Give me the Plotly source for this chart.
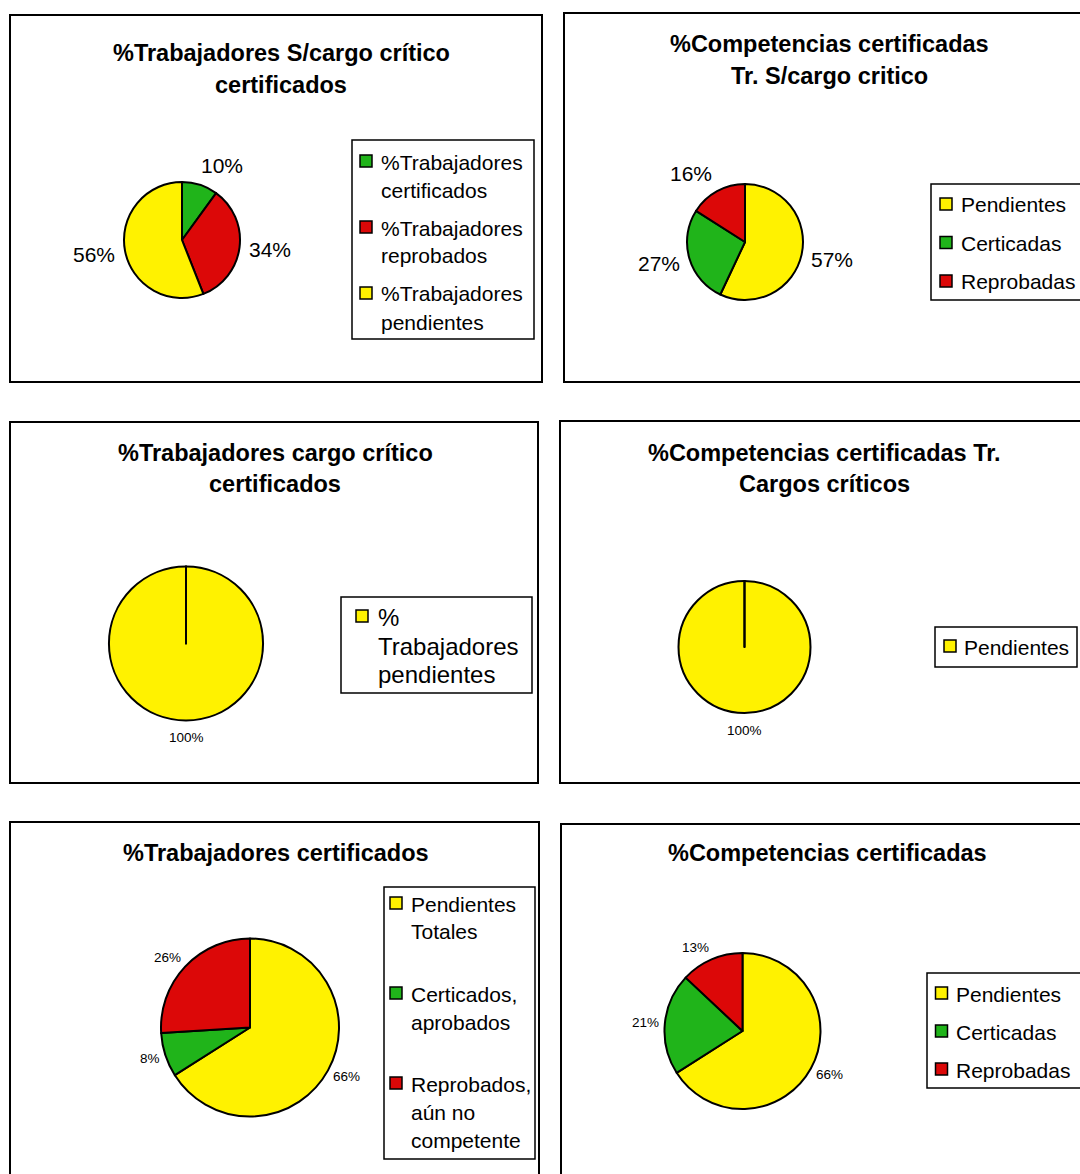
import math
import textwrap

import plotly.graph_objects as go

W, H = 1080, 1174
FONT = "Liberation Sans, Arial, sans-serif"

YELLOW = "#FFF200"
GREEN = "#20B41A"
RED = "#DC0808"

# ---- data -------------------------------------------------------------
s_cargo_title = ["%Trabajadores S/cargo crítico", "certificados"]
s_cargo_labels = ["%Trabajadores certificados", "%Trabajadores reprobados",
                  "%Trabajadores pendientes"]
s_cargo_values = [10, 34, 56]
s_cargo_colors = [GREEN, RED, YELLOW]

comp_s_cargo_title = ["%Competencias certificadas", "Tr. S/cargo critico"]
comp_s_cargo_labels = ["Pendientes", "Certicadas", "Reprobadas"]
comp_s_cargo_values = [57, 27, 16]
comp_s_cargo_colors = [YELLOW, GREEN, RED]

cargo_title = ["%Trabajadores cargo crítico", "certificados"]
cargo_labels = ["% Trabajadores pendientes", "%Trabajadores certificados",
                "%Trabajadores reprobados"]
cargo_values = [100, 0, 0]
cargo_colors = [YELLOW, GREEN, RED]

comp_cargo_title = ["%Competencias certificadas Tr.", "Cargos críticos"]
comp_cargo_labels = ["Pendientes", "Certicadas", "Reprobadas"]
comp_cargo_values = [100, 0, 0]
comp_cargo_colors = [YELLOW, GREEN, RED]

total_title = ["%Trabajadores certificados"]
total_labels = ["Pendientes Totales", "Certicados, aprobados",
                "Reprobados, aún no competente"]
total_values = [66, 8, 26]
total_colors = [YELLOW, GREEN, RED]

comp_total_title = ["%Competencias certificadas"]
comp_total_labels = ["Pendientes", "Certicadas", "Reprobadas"]
comp_total_values = [66, 21, 13]
comp_total_colors = [YELLOW, GREEN, RED]

# ---- layout of each chart block (pixel units) --------------------------
panels = [
    dict(title=s_cargo_title, labels=s_cargo_labels, values=s_cargo_values,
         colors=s_cargo_colors,
         box=(10, 15, 542, 382), title_x=281, title_y=[53, 85],
         pie=(182, 240, 58), pct_font=21, gap=10,
         legend=dict(box=(352, 140, 534, 339), mx=366, tx=379, y0=162,
                     step=66, line=28, font=21, wrap=13)),
    dict(title=comp_s_cargo_title, labels=comp_s_cargo_labels,
         values=comp_s_cargo_values, colors=comp_s_cargo_colors,
         box=(564, 13, 1095, 382), title_x=829, title_y=[44, 76],
         pie=(745, 242, 58), pct_font=21, gap=10,
         legend=dict(box=(931, 184, 1095, 300), mx=946, tx=959, y0=205,
                     step=38.5, line=28, font=21, wrap=40)),
    dict(title=cargo_title, labels=cargo_labels, values=cargo_values,
         colors=cargo_colors,
         box=(10, 422, 538, 783), title_x=275, title_y=[453, 484],
         pie=(186, 643.5, 77), pct_font=13.5, gap=10,
         legend=dict(box=(341, 597, 532, 693), mx=362, tx=376, y0=617,
                     step=90, line=29, font=24, wrap=12)),
    dict(title=comp_cargo_title, labels=comp_cargo_labels,
         values=comp_cargo_values, colors=comp_cargo_colors,
         box=(560, 421, 1095, 783), title_x=824, title_y=[453, 484],
         pie=(744.5, 647, 66), pct_font=13.5, gap=11,
         legend=dict(box=(935, 627, 1077, 667), mx=950, tx=962, y0=647,
                     step=38, line=28, font=21, wrap=40)),
    dict(title=total_title, labels=total_labels, values=total_values,
         colors=total_colors,
         box=(10, 822, 539, 1190), title_x=275.5, title_y=[853],
         pie=(250, 1027.5, 89), pct_font=13.5, gap=6,
         legend=dict(box=(384, 887, 535, 1159), mx=396, tx=409, y0=904,
                     step=90, line=28, font=21, wrap=11)),
    dict(title=comp_total_title, labels=comp_total_labels,
         values=comp_total_values, colors=comp_total_colors,
         box=(561, 824, 1095, 1190), title_x=827, title_y=[853],
         pie=(742.5, 1031, 78), pct_font=13.5, gap=6,
         legend=dict(box=(927, 973, 1095, 1088), mx=941.5, tx=954, y0=994,
                     step=38, line=28, font=21, wrap=40)),
]


def fx(x):
    return x / W


def fy(y):
    return 1 - y / H


def text_width(s, size):
    # rough Arial advance widths for percentage labels
    w = sum(0.889 if ch == "%" else 0.556 for ch in s)
    return w * size


fig = go.Figure()
shapes = []
annotations = []

for p in panels:
    x0, y0, x1, y1 = p["box"]
    shapes.append(dict(type="rect", xref="paper", yref="paper",
                       x0=fx(x0), x1=fx(x1), y0=fy(y1), y1=fy(y0),
                       line=dict(color="black", width=2), layer="below"))

    for line_txt, ty in zip(p["title"], p["title_y"]):
        annotations.append(dict(text=f"<b>{line_txt}</b>", xref="paper", yref="paper",
                                x=fx(p["title_x"]), y=fy(ty), xanchor="center",
                                yanchor="middle", showarrow=False,
                                font=dict(family=FONT, size=23.5, color="black")))

    cx, cy, r = p["pie"]
    fig.add_trace(go.Pie(
        labels=p["labels"], values=p["values"], sort=False,
        direction="clockwise", rotation=0,
        marker=dict(colors=p["colors"], line=dict(color="black", width=2)),
        textinfo="none", hoverinfo="label+percent", showlegend=False,
        domain=dict(x=[fx(cx - r), fx(cx + r)], y=[fy(cy + r), fy(cy - r)]),
    ))

    # percentage labels: anchored just outside the arc at each slice's mid-angle,
    # pushed sideways away from the pie by half their width
    total = sum(p["values"])
    acc = 0.0
    for v in p["values"]:
        if v <= 0:
            continue
        mid = (acc + v / 2) / total * 2 * math.pi
        acc += v
        txt = f"{round(v / total * 100)}%"
        fs = p["pct_font"]
        w = text_width(txt, fs)
        h = fs
        s, c = math.sin(mid), math.cos(mid)
        ax = cx + (r + p["gap"]) * s
        ay = cy - (r + p["gap"]) * c
        lx = ax + max(-1.0, min(1.0, 3 * s)) * w / 2
        ly = ay - c * h / 2
        annotations.append(dict(text=txt, xref="paper", yref="paper",
                                x=fx(lx), y=fy(ly),
                                xanchor="center", yanchor="middle", showarrow=False,
                                font=dict(family=FONT, size=fs, color="black")))

    # legend box
    lg = p["legend"]
    lx0, ly0, lx1, ly1 = lg["box"]
    shapes.append(dict(type="rect", xref="paper", yref="paper",
                       x0=fx(lx0), x1=fx(lx1), y0=fy(ly1), y1=fy(ly0),
                       line=dict(color="black", width=1.5), fillcolor="white"))
    item_y = lg["y0"]
    for lab, col, v in zip(p["labels"], p["colors"], p["values"]):
        if v <= 0:
            continue
        m = 6
        shapes.append(dict(type="rect", xref="paper", yref="paper",
                           x0=fx(lg["mx"] - m), x1=fx(lg["mx"] + m),
                           y0=fy(item_y - 1 + m), y1=fy(item_y - 1 - m),
                           fillcolor=col, line=dict(color="black", width=1.5)))
        for k, ln in enumerate(textwrap.wrap(lab, lg["wrap"])):
            annotations.append(dict(text=ln, xref="paper", yref="paper",
                                    x=fx(lg["tx"]), y=fy(item_y + k * lg["line"]),
                                    xanchor="left", yanchor="middle", showarrow=False,
                                    font=dict(family=FONT, size=lg["font"], color="black")))
        item_y += lg["step"]

fig.update_layout(
    width=W, height=H,
    margin=dict(l=0, r=0, t=0, b=0),
    paper_bgcolor="white", plot_bgcolor="white",
    shapes=shapes, annotations=annotations,
    showlegend=False,
)

fig.write_html("out.html")
